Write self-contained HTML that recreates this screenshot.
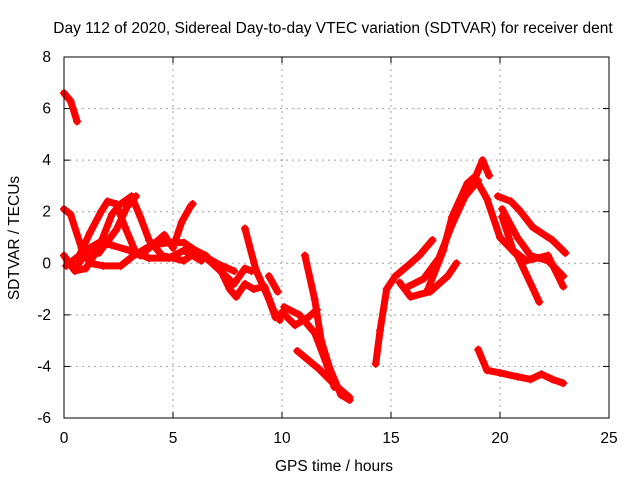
<!DOCTYPE html>
<html><head><meta charset="utf-8"><style>
body{margin:0;background:#fff}
svg text{font-family:"Liberation Sans",sans-serif;font-size:15.5px;fill:#000}
</style></head><body>
<svg id="chart" width="640" height="480">
<text x="333" y="33" text-anchor="middle">Day 112 of 2020, Sidereal Day-to-day VTEC variation (SDTVAR) for receiver dent</text>
<text x="334" y="471" text-anchor="middle">GPS time / hours</text>
<text x="0" y="0" transform="translate(19,238) rotate(-90)" text-anchor="middle">SDTVAR / TECUs</text>
<g id="grid"></g><g id="marks"></g>
<rect x="64" y="57" width="545" height="361" fill="none" stroke="#000"/>
</svg>
<script>
const xTicks=[0,5,10,15,20,25];
const yTicks=[-6,-4,-2,0,2,4,6,8];
const track1=[[0,6.6],[0.3,6.3],[0.6,5.5]];
const track2=[[0,2.1],[0.3,1.9],[0.8,0.6],[1.2,0],[1.8,-0.1],[2.6,-0.1],[3.2,0.3],[4,0.7],[4.8,0.8],[5.5,0.8],[6.2,0.4],[7,0],[7.8,-0.3]];
const track3=[[0,0.3],[0.5,-0.3],[1,-0.2],[1.6,0.6],[2.2,1.9],[2.6,2.3],[3.1,2.6],[3.5,1.8],[3.9,0.9],[4.5,0.3],[5.5,0.1],[6,0.4]];
const track4=[[0.1,-0.1],[0.7,0.3],[1.2,1.2],[1.7,2.0],[2,2.4],[2.4,2.3],[2.8,1.4],[3.3,0.4],[3.9,0.2],[4.8,0.2],[5.5,0.5],[6.3,0.1]];
const track5=[[0.6,-0.1],[1.2,0.6],[1.6,0.8],[2.2,0.7],[3,0.5],[3.5,0.3],[4.2,0.8],[4.6,1.1],[5,0.6],[5.4,1.6],[5.8,2.2],[5.9,2.3]];
const track6=[[1,0.5],[1.6,0.4],[2.4,1.3],[2.9,2.2],[3.3,2.6]];
const track7=[[5.8,0.6],[6.5,0.3],[7.2,-0.3],[7.6,-1.0],[7.9,-1.3],[8.3,-0.8],[8.7,-1.0],[9.2,-0.9],[9.6,-1.8],[9.9,-2.2]];
const track8=[[6.2,0.4],[6.8,0.0],[7.3,-0.4],[7.8,-0.8],[8.3,-0.2],[8.6,-0.3]];
const track9=[[8.3,1.35],[8.8,-0.25],[9.4,-1.4],[9.7,-2.1]];
const track10=[[9.4,-0.5],[9.8,-1.1]];
const track11=[[11.05,0.3],[11.5,-1.4],[11.8,-3.0],[12.2,-4.1],[12.7,-5.1],[13.1,-5.3]];
const track12=[[10,-1.9],[10.6,-2.4],[11.2,-2.1],[11.6,-1.8]];
const track13=[[10.7,-3.4],[11.7,-4.1],[12.4,-4.7],[13.1,-5.2]];
const track14=[[10.1,-1.7],[10.8,-2.0],[11.5,-2.7],[12,-3.8],[12.4,-4.8]];
const track15=[[14.3,-3.9],[14.5,-2.6],[14.8,-1.0],[15.2,-0.5],[15.9,0.0],[16.3,0.3],[16.9,0.9]];
const track16=[[15.4,-0.75],[15.9,-1.3],[16.8,-1.1],[17.6,-0.5],[18.0,0.0]];
const track17=[[16.7,-1.0],[17.4,0.5],[17.8,1.8],[18.5,3.1],[18.9,3.4],[19.2,4.0],[19.5,3.4]];
const track18=[[15.8,-0.9],[16.5,-0.6],[17.2,0.2],[17.8,1.5],[18.4,2.6],[19,3.2]];
const track19=[[19.0,3.1],[19.4,2.5],[20.0,1.0],[20.8,0.3],[21.8,-1.5]];
const track20=[[19.9,2.6],[20.5,2.4],[20.9,2.05],[21.5,1.4],[22.4,0.9],[23,0.4]];
const track21=[[20.1,2.1],[20.8,1.0],[21.4,0.3],[22.2,0.1],[22.9,-0.5]];
const track22=[[20.1,1.8],[20.6,0.5],[21.2,0.1],[22.2,0.3],[22.9,-0.9]];
const track23=[[19,-3.35],[19.4,-4.15],[20,-4.25],[20.8,-4.4],[21.4,-4.5],[21.9,-4.3],[22.4,-4.5],[22.9,-4.65]];
const tracks=[track1,track2,track3,track4,track5,track6,track7,track8,track9,track10,track11,track12,track13,track14,track15,track16,track17,track18,track19,track20,track21,track22,track23];
const NS="http://www.w3.org/2000/svg";
const X=t=>64+t*(545/25), Y=v=>418-(v+6)*(361/14);
const grid=document.getElementById('grid'), marks=document.getElementById('marks');
function mk(tag,attrs,parent){const e=document.createElementNS(NS,tag);for(const k in attrs)e.setAttribute(k,attrs[k]);parent.appendChild(e);return e;}
xTicks.forEach(t=>{
 const x=X(t);
 if(t>0&&t<25){const g=mk('line',{x1:x,x2:x,y1:57,y2:418,stroke:'#a0a0a0','stroke-dasharray':'2,4'},grid);
 
 }
 mk('line',{x1:x,x2:x,y1:418,y2:412,stroke:'#000'},grid);mk('line',{x1:x,x2:x,y1:57,y2:63,stroke:'#000'},grid);
 const l=mk('text',{x:x,y:443,'text-anchor':'middle'},grid);l.textContent=t;
 
 
});
yTicks.forEach(v=>{
 const y=Y(v);
 if(v>-6&&v<8){const g=mk('line',{x1:64,x2:609,y1:y,y2:y,stroke:'#a0a0a0','stroke-dasharray':'2,4'},grid);
 
 }
 mk('line',{x1:64,x2:70,y1:y,y2:y,stroke:'#000'},grid);mk('line',{x1:603,x2:609,y1:y,y2:y,stroke:'#000'},grid);
 const l=mk('text',{x:51,y:y+5,'text-anchor':'end'},grid);l.textContent=v;
 
 
});
tracks.forEach((tr,i)=>{
 const p=mk('polyline',{points:tr.map(d=>X(d[0])+','+Y(d[1])).join(' '),fill:'none',stroke:'#f00','stroke-width':7,'stroke-linejoin':'round','stroke-linecap':'round'},marks);
 
 
 tr.forEach(d=>{const x=X(d[0]),y=Y(d[1]);
  mk('path',{d:`M${x-4},${y}h8M${x},${y-4}v8`,stroke:'#f00','stroke-width':1.5},marks);});
});
</script>
</body></html>
